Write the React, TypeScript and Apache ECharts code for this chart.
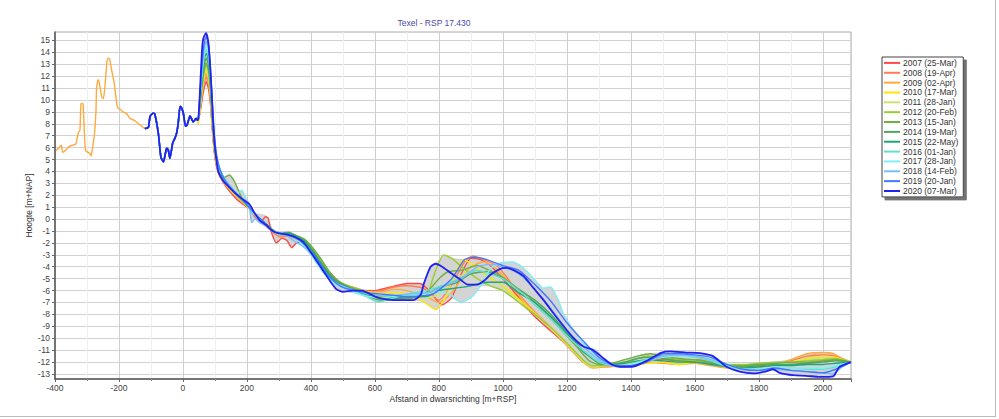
import React, { useEffect, useRef } from "react";
import * as echarts from "echarts";

const titleText = "Texel - RSP 17.430";
const xName = "Afstand in dwarsrichting [m+RSP]";
const yName = "Hoogte [m+NAP]";
const yTicks = [-13, -12, -11, -10, -9, -8, -7, -6, -5, -4, -3, -2, -1, 0, 1, 2, 3, 4, 5, 6, 7, 8, 9, 10, 11, 12, 13, 14, 15];

const seriesNames = [
  "2007 (25-Mar)", "2008 (19-Apr)", "2009 (02-Apr)", "2010 (17-Mar)", "2011 (28-Jan)",
  "2012 (20-Feb)", "2013 (15-Jan)", "2014 (19-Mar)", "2015 (22-May)", "2016 (01-Jan)",
  "2017 (28-Jan)", "2018 (14-Feb)", "2019 (20-Jan)", "2020 (07-Mar)",
];
const seriesColors = [
  "#ff4a4a", "#ff7f50", "#ffaa3c", "#ffe600", "#cde46e",
  "#9acd32", "#6eb043", "#50a65e", "#1fa67a", "#5fe0cf",
  "#80eef5", "#78bdff", "#4479ff", "#2222ee",
];

// only the 2009 survey reaches the far west
const west2009 = [
  [-396, 5.75], [-384, 6.1], [-380, 6.2], [-376, 5.6], [-366, 5.8], [-355, 6.1], [-345, 6.2], [-335, 6.3],
  [-332, 6.65], [-327, 7.25], [-322, 7.45], [-319, 9.66], [-314, 9.7], [-312, 9.6], [-306, 6.1], [-303, 5.7],
  [-296, 5.6], [-291, 5.5], [-287, 5.3], [-282, 6.1], [-277, 7.06], [-272, 9.0], [-270, 11.0], [-265, 11.7],
  [-262, 11.5], [-254, 10.27], [-249, 10.1], [-244, 11.1], [-238, 13.07], [-234, 13.5], [-229, 13.4],
  [-223, 12.5], [-215, 11.4], [-205, 9.4], [-196, 9.2], [-187, 9.0], [-176, 8.85], [-166, 8.46],
  [-150, 8.25], [-134, 7.9],
];

// dune part, identical in every survey
const duneCommon = [
  [-119, 7.6], [-108, 7.7], [-103, 8.6], [-93, 8.9], [-88, 8.8], [-77, 7.2], [-69, 5.2], [-61, 4.8],
  [-55, 5.5], [-51, 5.95], [-46, 5.8], [-41, 5.1], [-32, 6.4], [-25, 6.8], [-20, 7.2], [-15, 8.0],
  [-9, 9.45], [-4, 9.3], [1, 8.9], [8, 7.8], [13, 7.9], [22, 8.65], [27, 8.4], [32, 8.15], [41, 8.45], [45, 8.3],
];

const tail2007 = [[48,8.3],[56,9.4],[62,10.4],[68,11.2],[73,11.5],[80,10.9],[86,9.6],[92,7.4],[98,5.6],[105,4.4],[115,3.6],[130,2.9],[150,2.2],[170,1.6],[190,1.2],[210,0.8],[225,0.2],[245,-0.2],[258,0.2],[266,0.1],[275,-1.0],[292,-2.0],[310,-1.6],[325,-1.8],[340,-2.4],[355,-2.0],[375,-1.9],[400,-2.4],[425,-3.2],[450,-4.2],[470,-4.8],[495,-5.4],[520,-5.7],[560,-6.0],[600,-6.0],[650,-5.7],[700,-5.4],[740,-5.4],[770,-6.0],[810,-7.2],[840,-6.6],[870,-4.6],[900,-3.3],[930,-3.4],[960,-3.9],[1000,-5.0],[1050,-6.6],[1100,-8.2],[1150,-9.4],[1200,-10.6],[1250,-12.0],[1280,-12.4],[1320,-12.3],[1360,-12.2],[1400,-12.1],[1450,-11.9],[1500,-11.8],[1550,-11.9],[1600,-11.8],[1650,-12.0],[1700,-12.3],[1750,-12.4],[1800,-12.3],[1850,-12.2],[1900,-12.2],[1950,-12.1],[2000,-11.9],[2040,-11.8],[2088,-12.0]];
const tail2008 = [[48,8.3],[56,9.6],[62,10.8],[68,11.6],[73,11.9],[80,11.3],[86,9.9],[92,7.6],[98,5.8],[105,4.5],[115,3.7],[130,3.0],[150,2.4],[170,1.8],[190,1.3],[210,0.9],[230,0.1],[255,-0.5],[280,-1.1],[305,-1.5],[330,-1.4],[355,-1.7],[380,-2.0],[405,-2.7],[430,-3.6],[455,-4.6],[480,-5.3],[505,-5.6],[540,-5.9],[580,-6.1],[620,-6.0],[660,-5.7],[700,-5.6],[750,-5.8],[800,-6.8],[840,-5.5],[880,-3.6],[905,-3.1],[940,-3.4],[980,-3.9],[1010,-4.8],[1050,-6.3],[1100,-7.8],[1150,-9.1],[1200,-10.5],[1250,-11.9],[1280,-12.4],[1320,-12.4],[1360,-12.3],[1400,-12.2],[1450,-11.9],[1500,-11.7],[1550,-11.8],[1600,-11.8],[1650,-12.0],[1700,-12.4],[1750,-12.5],[1800,-12.4],[1850,-12.3],[1900,-11.9],[1950,-11.5],[2000,-11.4],[2040,-11.5],[2088,-12.0]];
const tail2009 = [[48,8.2],[56,9.8],[62,11.0],[68,11.9],[73,12.2],[80,11.6],[86,10.1],[92,7.8],[98,5.9],[105,4.6],[115,3.7],[130,3.0],[150,2.4],[170,1.8],[190,1.3],[210,0.8],[230,0.2],[255,-0.4],[280,-1.0],[305,-1.4],[330,-1.3],[355,-1.6],[380,-1.9],[405,-2.7],[430,-3.7],[455,-4.6],[480,-5.2],[505,-5.5],[540,-5.8],[580,-6.1],[620,-6.1],[660,-5.9],[700,-6.0],[760,-6.5],[800,-7.0],[840,-6.2],[870,-5.0],[900,-4.0],[940,-3.6],[980,-4.2],[1010,-5.0],[1050,-6.4],[1100,-7.9],[1150,-9.2],[1200,-10.6],[1250,-12.0],[1280,-12.5],[1320,-12.4],[1360,-12.3],[1400,-12.2],[1450,-12.0],[1500,-12.1],[1550,-12.2],[1600,-12.1],[1650,-12.3],[1700,-12.5],[1750,-12.5],[1800,-12.4],[1850,-12.3],[1900,-11.8],[1950,-11.3],[2000,-11.2],[2030,-11.25],[2060,-11.7],[2088,-12.0]];
const tail2010 = [[48,8.0],[56,9.9],[62,11.2],[68,12.2],[73,12.5],[80,11.9],[86,10.4],[92,8.0],[98,6.0],[105,4.7],[115,3.8],[130,3.0],[150,2.4],[170,1.9],[190,1.4],[210,0.8],[230,0.2],[255,-0.4],[280,-1.0],[305,-1.3],[330,-1.3],[355,-1.5],[380,-1.8],[405,-2.6],[430,-3.7],[455,-4.7],[480,-5.3],[505,-5.6],[540,-5.9],[580,-6.1],[620,-6.3],[660,-6.2],[700,-6.3],[750,-6.9],[790,-7.6],[820,-6.6],[850,-4.6],[875,-3.4],[900,-3.7],[950,-4.8],[1000,-5.6],[1050,-6.7],[1100,-7.9],[1150,-9.1],[1200,-10.4],[1250,-11.9],[1280,-12.4],[1320,-12.3],[1360,-12.2],[1400,-12.3],[1450,-12.1],[1500,-12.0],[1550,-12.2],[1600,-12.0],[1650,-12.1],[1700,-12.4],[1750,-12.4],[1800,-12.3],[1850,-12.2],[1900,-12.0],[1950,-11.7],[2000,-11.5],[2040,-11.6],[2088,-12.0]];
const tail2011 = [[48,8.3],[56,10.0],[62,11.3],[68,12.3],[73,12.6],[80,12.0],[86,10.5],[92,8.1],[98,6.1],[105,4.7],[115,3.8],[130,3.1],[150,2.5],[170,1.9],[190,1.4],[210,0.8],[230,0.2],[255,-0.3],[280,-1.0],[305,-1.3],[330,-1.2],[355,-1.5],[380,-1.8],[405,-2.5],[430,-3.5],[455,-4.5],[480,-5.2],[505,-5.6],[540,-5.9],[580,-6.2],[620,-6.4],[660,-6.4],[700,-6.5],[760,-6.6],[800,-6.3],[840,-5.2],[880,-4.6],[920,-4.3],[960,-4.8],[1000,-5.7],[1050,-6.9],[1100,-8.0],[1150,-9.2],[1200,-10.5],[1250,-11.9],[1280,-12.4],[1320,-12.3],[1360,-12.2],[1400,-12.1],[1450,-11.9],[1500,-11.9],[1550,-12.0],[1600,-11.9],[1650,-12.1],[1700,-12.3],[1750,-12.3],[1800,-12.3],[1850,-12.2],[1900,-12.0],[1950,-11.8],[2000,-11.7],[2040,-11.7],[2088,-12.0]];
const tail2012 = [[48,8.4],[56,10.2],[62,11.6],[68,12.6],[73,12.9],[80,12.3],[86,10.7],[92,8.2],[98,6.2],[105,4.8],[115,3.9],[130,3.2],[150,2.6],[170,2.0],[190,1.4],[210,0.9],[230,0.3],[255,-0.3],[280,-0.9],[305,-1.3],[330,-1.2],[355,-1.4],[380,-1.7],[405,-2.4],[430,-3.4],[455,-4.4],[480,-5.1],[505,-5.5],[540,-5.8],[580,-6.2],[620,-6.5],[660,-6.5],[700,-6.6],[760,-6.4],[790,-4.3],[815,-3.0],[840,-3.3],[880,-4.2],[920,-5.0],[960,-5.6],[1000,-6.0],[1050,-7.0],[1100,-8.0],[1150,-9.1],[1200,-10.4],[1250,-11.8],[1280,-12.3],[1320,-12.3],[1360,-12.1],[1400,-11.9],[1450,-11.5],[1500,-11.6],[1550,-11.8],[1600,-11.9],[1650,-12.0],[1700,-12.2],[1750,-12.2],[1800,-12.1],[1850,-12.0],[1900,-12.0],[1950,-11.9],[2000,-11.8],[2040,-11.7],[2088,-12.0]];
const tail2013 = [[48,8.4],[56,10.4],[62,11.8],[68,12.8],[73,13.1],[80,12.5],[86,10.9],[92,8.4],[98,6.3],[105,4.9],[115,4.0],[130,3.5],[145,3.7],[160,3.2],[175,2.3],[190,1.5],[210,0.9],[230,0.3],[255,-0.3],[280,-0.9],[305,-1.3],[330,-1.2],[355,-1.4],[380,-1.7],[405,-2.4],[430,-3.3],[455,-4.3],[480,-5.1],[505,-5.5],[540,-5.9],[580,-6.4],[620,-6.7],[660,-6.7],[700,-6.7],[760,-6.2],[800,-5.0],[830,-4.4],[870,-4.3],[920,-3.9],[950,-4.2],[990,-4.7],[1030,-5.5],[1080,-6.5],[1130,-7.8],[1180,-9.2],[1230,-10.7],[1270,-11.9],[1300,-12.2],[1340,-12.1],[1380,-11.8],[1420,-11.5],[1460,-11.3],[1500,-11.5],[1550,-11.7],[1600,-11.8],[1650,-12.0],[1700,-12.3],[1750,-12.3],[1800,-12.2],[1850,-12.1],[1900,-12.0],[1950,-12.0],[2000,-11.9],[2040,-11.8],[2088,-12.0]];
const tail2014 = [[48,8.4],[56,10.6],[62,12.1],[68,13.2],[73,13.5],[80,12.9],[86,11.2],[92,8.6],[98,6.4],[105,5.0],[115,4.0],[130,3.3],[150,2.7],[170,2.0],[190,1.5],[210,0.9],[230,0.3],[255,-0.3],[280,-0.9],[305,-1.2],[330,-1.1],[355,-1.4],[380,-1.8],[405,-2.6],[430,-3.6],[455,-4.5],[480,-5.2],[505,-5.6],[540,-6.0],[580,-6.5],[620,-6.8],[660,-6.7],[700,-6.6],[760,-6.4],[800,-5.7],[850,-5.4],[900,-4.6],[950,-4.4],[1000,-5.0],[1050,-5.9],[1100,-6.8],[1150,-8.0],[1200,-9.5],[1250,-11.0],[1300,-12.1],[1340,-12.2],[1380,-12.0],[1420,-11.7],[1460,-11.6],[1500,-11.7],[1550,-11.9],[1600,-12.0],[1650,-12.1],[1700,-12.3],[1750,-12.4],[1800,-12.3],[1850,-12.2],[1900,-12.2],[1950,-12.1],[2000,-12.0],[2040,-11.9],[2088,-12.0]];
const tail2015 = [[48,8.4],[56,10.8],[62,12.4],[68,13.6],[73,13.9],[80,13.3],[86,11.5],[92,8.8],[98,6.5],[105,5.0],[115,4.0],[130,3.3],[150,2.6],[170,2.0],[190,1.5],[210,0.9],[230,0.3],[255,-0.3],[280,-0.9],[305,-1.3],[330,-1.2],[355,-1.5],[380,-1.9],[405,-2.7],[430,-3.7],[455,-4.6],[480,-5.3],[505,-5.6],[540,-6.0],[580,-6.4],[620,-6.6],[660,-6.6],[700,-6.5],[760,-6.5],[800,-6.0],[850,-5.8],[900,-5.6],[950,-5.3],[1000,-5.3],[1050,-6.2],[1100,-7.0],[1150,-8.2],[1200,-9.6],[1250,-11.1],[1300,-12.0],[1340,-12.2],[1380,-12.1],[1420,-11.9],[1460,-11.8],[1500,-11.9],[1550,-12.0],[1600,-12.0],[1650,-12.2],[1700,-12.4],[1750,-12.5],[1800,-12.4],[1850,-12.3],[1900,-12.3],[1950,-12.2],[2000,-12.2],[2040,-12.1],[2088,-12.0]];
const tail2016 = [[48,8.4],[56,11.0],[62,12.7],[68,13.9],[73,14.2],[80,13.6],[86,11.8],[92,9.0],[98,6.7],[105,5.1],[115,4.1],[130,3.4],[150,2.7],[170,2.1],[190,1.5],[205,1.3],[215,0.6],[230,0.2],[255,-0.4],[280,-1.0],[305,-1.3],[330,-1.3],[355,-1.7],[380,-2.2],[405,-3.1],[430,-4.1],[455,-4.9],[480,-5.4],[505,-5.7],[540,-6.1],[580,-6.6],[610,-6.95],[650,-6.7],[700,-6.3],[760,-6.0],[820,-5.5],[870,-4.9],[920,-4.3],[960,-4.6],[1000,-5.0],[1050,-6.0],[1100,-7.2],[1150,-8.4],[1200,-9.8],[1250,-11.0],[1300,-12.0],[1340,-12.3],[1380,-12.3],[1420,-12.0],[1460,-11.7],[1500,-11.5],[1550,-11.5],[1600,-11.6],[1650,-11.9],[1700,-12.4],[1750,-12.6],[1800,-12.6],[1850,-12.5],[1900,-12.5],[1950,-12.6],[2000,-12.6],[2040,-12.4],[2088,-12.0]];
const tail2017 = [[48,8.4],[56,11.2],[62,13.0],[68,14.2],[73,14.5],[80,13.9],[86,12.1],[92,9.2],[98,6.8],[105,5.2],[115,4.2],[130,3.4],[150,2.7],[170,2.2],[185,2.4],[200,1.4],[215,0.8],[230,0.2],[255,-0.4],[280,-1.0],[305,-1.3],[330,-1.3],[355,-1.7],[380,-2.3],[405,-3.2],[430,-4.2],[455,-5.0],[480,-5.5],[505,-5.8],[540,-6.2],[580,-6.5],[620,-6.6],[660,-6.5],[700,-6.4],[760,-6.3],[800,-6.1],[840,-6.4],[868,-7.0],[900,-6.6],[930,-5.6],[960,-4.2],[990,-3.7],[1030,-3.6],[1060,-4.0],[1095,-4.95],[1126,-5.8],[1149,-5.7],[1173,-6.8],[1188,-7.9],[1220,-9.3],[1262,-10.7],[1293,-11.5],[1324,-12.1],[1360,-12.3],[1400,-12.2],[1450,-11.9],[1500,-11.6],[1550,-11.5],[1600,-11.5],[1650,-11.8],[1700,-12.3],[1750,-12.6],[1800,-12.6],[1850,-12.4],[1900,-12.5],[1950,-12.5],[2000,-12.5],[2040,-12.3],[2088,-12.0]];
const tail2018 = [[48,8.4],[56,11.4],[62,13.4],[68,14.6],[73,14.9],[80,14.3],[86,12.4],[92,9.5],[98,7.0],[105,5.3],[115,4.2],[130,3.4],[150,2.7],[170,2.1],[190,1.6],[205,1.4],[215,-0.3],[225,0.0],[240,-0.3],[260,-0.6],[280,-1.0],[300,-1.1],[320,-1.3],[345,-1.8],[370,-2.2],[400,-2.9],[425,-3.8],[450,-4.7],[480,-5.4],[505,-5.7],[540,-6.0],[580,-6.3],[620,-6.4],[660,-6.4],[700,-6.3],[760,-6.2],[820,-5.6],[880,-4.8],[920,-4.0],[960,-3.8],[1000,-4.0],[1050,-4.6],[1100,-5.9],[1150,-7.5],[1200,-9.3],[1250,-10.7],[1300,-11.8],[1340,-12.3],[1380,-12.4],[1420,-12.2],[1460,-11.9],[1500,-11.5],[1550,-11.4],[1600,-11.5],[1650,-11.8],[1700,-12.2],[1750,-12.6],[1800,-12.7],[1850,-12.6],[1900,-12.7],[1950,-12.8],[2000,-12.9],[2030,-13.0],[2055,-12.5],[2088,-12.0]];
const tail2019 = [[48,8.4],[56,11.6],[62,13.7],[68,15.0],[73,15.3],[80,14.6],[86,12.7],[92,9.8],[98,7.2],[105,5.4],[115,4.2],[130,3.3],[150,2.6],[170,2.0],[190,1.5],[210,0.9],[230,0.3],[255,-0.3],[280,-1.0],[300,-1.2],[320,-1.2],[345,-1.5],[370,-1.9],[400,-2.7],[425,-3.6],[450,-4.6],[480,-5.4],[505,-5.8],[540,-6.0],[580,-6.2],[620,-6.3],[660,-6.4],[700,-6.5],[780,-6.3],[840,-5.0],[880,-3.4],[910,-3.2],[950,-3.4],[1000,-3.9],[1050,-4.3],[1100,-5.5],[1150,-6.9],[1200,-8.7],[1250,-10.2],[1300,-11.6],[1340,-12.2],[1400,-12.3],[1450,-12.0],[1500,-11.3],[1550,-11.3],[1600,-11.4],[1650,-11.6],[1700,-12.2],[1750,-12.6],[1800,-12.7],[1850,-12.5],[1900,-12.7],[1950,-12.8],[2000,-12.9],[2040,-12.6],[2088,-12.0]];
const tail2020 = [[48,8.4],[51,9.6],[55,11.8],[60,14.35],[64,15.2],[72,15.6],[79,14.9],[84,13.2],[90,10.4],[95,7.7],[100,6.0],[105,4.9],[110,4.0],[126,3.2],[147,2.6],[168,2.06],[188,1.64],[209,1.2],[224,0.5],[240,-0.1],[260,-0.5],[280,-1.0],[300,-1.2],[325,-1.3],[350,-1.5],[375,-1.9],[400,-2.8],[425,-3.8],[445,-4.6],[465,-5.4],[480,-5.9],[500,-6.1],[530,-6.0],[560,-6.0],[600,-6.5],[640,-6.75],[680,-6.8],[720,-6.8],[743,-6.35],[753,-5.4],[774,-4.0],[790,-3.75],[810,-4.0],[836,-4.5],[868,-5.1],[890,-5.5],[920,-5.5],[940,-5.2],[960,-4.7],[990,-4.2],[1010,-4.1],[1035,-4.3],[1065,-4.8],[1096,-5.8],[1127,-6.8],[1158,-7.9],[1190,-9.0],[1221,-10.0],[1252,-10.7],[1283,-11.0],[1315,-11.7],[1340,-12.2],[1366,-12.4],[1408,-12.37],[1449,-11.9],[1496,-11.2],[1522,-11.1],[1574,-11.2],[1616,-11.25],[1657,-11.5],[1699,-12.4],[1740,-12.8],[1782,-12.95],[1820,-12.8],[1844,-12.6],[1865,-12.9],[1907,-13.1],[1948,-13.15],[1990,-13.25],[2032,-13.2],[2052,-12.4],[2088,-12.0]];

const tails = [tail2007, tail2008, tail2009, tail2010, tail2011, tail2012, tail2013, tail2014, tail2015, tail2016, tail2017, tail2018, tail2019, tail2020];

// grey band between the highest and lowest survey
const envUpper = [[48,8.5],[56,11.8],[62,14.0],[68,15.3],[72,15.6],[79,14.9],[84,13.2],[90,10.4],[95,7.7],[100,6.1],[110,4.3],[130,3.5],[145,3.7],[160,3.2],[175,2.4],[185,2.4],[205,1.4],[225,0.5],[258,0.3],[266,0.1],[280,-0.9],[305,-1.2],[330,-1.1],[355,-1.4],[380,-1.7],[405,-2.4],[430,-3.2],[450,-4.1],[470,-4.8],[495,-5.3],[520,-5.6],[560,-5.9],[600,-6.0],[650,-5.7],[700,-5.4],[740,-5.4],[753,-5.4],[774,-4.0],[790,-3.75],[815,-3.0],[840,-3.3],[880,-3.4],[905,-3.1],[930,-3.3],[960,-3.8],[990,-3.7],[1030,-3.6],[1060,-4.0],[1095,-4.95],[1126,-5.8],[1149,-5.7],[1173,-6.8],[1188,-7.9],[1220,-9.3],[1262,-10.7],[1293,-11.0],[1315,-11.7],[1340,-12.1],[1380,-11.8],[1420,-11.5],[1460,-11.3],[1500,-11.2],[1522,-11.1],[1574,-11.2],[1616,-11.25],[1657,-11.5],[1700,-12.2],[1750,-12.2],[1800,-12.1],[1850,-12.0],[1900,-11.8],[1950,-11.3],[2000,-11.2],[2030,-11.25],[2060,-11.7],[2088,-12.0]];
const envLower = [[48,8.0],[56,9.4],[62,10.4],[68,11.2],[73,11.5],[80,10.9],[86,9.6],[92,7.4],[98,5.6],[105,4.4],[115,3.6],[130,2.9],[150,2.2],[170,1.6],[190,1.2],[210,0.8],[215,-0.3],[225,0.0],[245,-0.2],[275,-1.0],[292,-2.0],[310,-1.6],[325,-1.8],[340,-2.4],[355,-2.0],[375,-2.0],[400,-2.9],[425,-3.8],[445,-4.6],[465,-5.4],[480,-5.9],[500,-6.1],[540,-6.2],[580,-6.6],[610,-6.95],[650,-6.75],[680,-6.8],[720,-6.8],[750,-6.9],[790,-7.6],[810,-7.2],[840,-6.6],[868,-7.0],[900,-6.6],[930,-5.6],[960,-5.6],[1000,-6.0],[1050,-7.0],[1100,-8.2],[1150,-9.4],[1200,-10.6],[1250,-12.0],[1280,-12.5],[1320,-12.4],[1366,-12.4],[1408,-12.37],[1450,-12.1],[1500,-12.1],[1550,-12.2],[1600,-12.1],[1650,-12.3],[1699,-12.4],[1740,-12.8],[1782,-12.95],[1820,-12.8],[1844,-12.6],[1865,-12.9],[1907,-13.1],[1948,-13.15],[1990,-13.25],[2032,-13.2],[2052,-12.4],[2088,-12.0]];

const FONT = "Liberation Sans";

export default function App() {
  const ref = useRef<HTMLDivElement>(null);
  useEffect(() => {
    if (!ref.current) return;
    const chart = echarts.init(ref.current, null, { renderer: "svg" });
    const lineSeries = seriesNames.map((name, i) => ({
      name,
      type: "line",
      data: (i === 2 ? west2009 : []).concat(duneCommon, tails[i]),
      symbol: "none",
      smooth: 0.2,
      lineStyle: { color: seriesColors[i], width: i === 13 ? 1.8 : 1.4 },
      itemStyle: { color: seriesColors[i] },
      z: 3,
    }));
    const option = {
      animation: false,
      backgroundColor: "#ffffff",
      grid: { left: 55, top: 32, width: 796, height: 347, show: true, borderColor: "#aaaaaa", borderWidth: 1 },
      legend: {
        data: seriesNames,
        orient: "vertical",
        left: 882,
        top: 57,
        padding: [1, 5, 1, 2],
        itemGap: 0,
        itemWidth: 16,
        itemHeight: 2,
        icon: "rect",
        backgroundColor: "#ffffff",
        borderColor: "#444444",
        borderWidth: 1,
        shadowColor: "rgba(0,0,0,0.55)",
        shadowOffsetX: 3,
        shadowOffsetY: 3,
        shadowBlur: 1,
        textStyle: { fontFamily: FONT, fontSize: 8.5, color: "#333333", lineHeight: 9.85, padding: [0, 0, 0, -2] },
      },
      xAxis: {
        type: "value",
        min: -400,
        max: 2088,
        interval: 200,
        name: xName,
        nameLocation: "middle",
        nameGap: 15,
        nameMoveOverlap: false,
        nameTextStyle: { fontFamily: FONT, fontSize: 8.5, color: "#333333" },
        axisLine: { show: true, onZero: false, lineStyle: { color: "#555555", width: 1.5 } },
        axisTick: { show: true, length: 3, lineStyle: { color: "#666666" } },
        minorTick: { show: true, splitNumber: 2, length: 2, lineStyle: { color: "#888888" } },
        splitLine: { show: true, lineStyle: { color: "#cfcfcf", width: 1 } },
        minorSplitLine: { show: true, lineStyle: { color: "#eeeeee", width: 1 } },
        axisLabel: {
          fontFamily: FONT, fontSize: 8.5, color: "#444444", margin: 4, showMaxLabel: false,
          formatter: (v: number) => String(v),
        },
      },
      yAxis: {
        type: "value",
        min: -13.42,
        max: 15.7,
        name: yName,
        nameLocation: "middle",
        nameGap: 22,
        nameMoveOverlap: false,
        nameTextStyle: { fontFamily: FONT, fontSize: 8.5, color: "#333333" },
        axisLine: { show: true, onZero: false, lineStyle: { color: "#555555", width: 1.5 } },
        axisTick: { show: true, length: 3, lineStyle: { color: "#666666" }, customValues: yTicks },
        splitLine: { show: true, lineStyle: { color: "#d2d2d2", width: 1 } },
        axisLabel: {
          fontFamily: FONT, fontSize: 8.5, color: "#444444", margin: 5, customValues: yTicks,
          formatter: (v: number) => String(v),
        },
      },
      graphic: [
        {
          type: "text",
          x: 434,
          y: 23,
          style: { text: titleText, fill: "#4a4aa8", font: `8.5px "${FONT}"`, align: "center", verticalAlign: "middle" },
        },
        { type: "line", shape: { x1: 0, y1: 416.5, x2: 996, y2: 416.5 }, style: { stroke: "#bbbbbb", lineWidth: 1 } },
        { type: "line", shape: { x1: 995.5, y1: 0, x2: 995.5, y2: 417 }, style: { stroke: "#bbbbbb", lineWidth: 1 } },
      ],
      series: [
        {
          type: "custom",
          name: "envelope",
          data: [[0, 0]],
          z: 2,
          silent: true,
          clip: true,
          renderItem: (_params: any, api: any) => {
            const pts = envUpper.map((p) => api.coord(p)).concat(envLower.slice().reverse().map((p) => api.coord(p)));
            return {
              type: "polygon",
              shape: { points: pts },
              style: { fill: "#d4d4d4", stroke: "#bdbdbd", lineWidth: 0.5 },
            };
          },
        },
        ...lineSeries,
      ],
    };
    chart.setOption(option as any);
    return () => chart.dispose();
  }, []);
  return <div ref={ref} style={{ position: "absolute", left: 0, top: 0, width: 999, height: 419 }} />;
}
